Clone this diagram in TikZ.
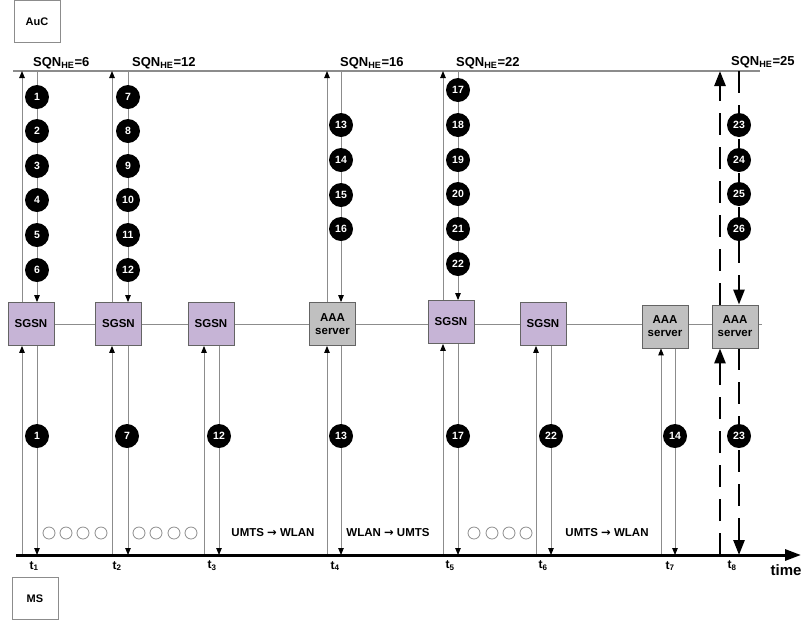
\documentclass[tikz,border=0pt]{standalone}
\usepackage{fontspec}
\setmainfont{Liberation Sans}
\newfontfamily\dvsans{DejaVu Sans}
\usetikzlibrary{arrows.meta,backgrounds}
\definecolor{lav}{RGB}{198,180,214}
\definecolor{aaag}{RGB}{192,192,192}
\definecolor{ln}{RGB}{140,140,140}
\definecolor{bd}{RGB}{100,100,100}
\newcommand{\harr}{{\dvsans\bfseries →}}
\begin{document}
\begin{tikzpicture}[x=1pt,y=-1pt,
  box/.style={draw=bd, line width=0.8pt, minimum width=46pt, minimum height=43pt, inner sep=0pt, align=center, font=\bfseries\fontsize{11.5}{13}\selectfont},
  sgsn/.style={box, fill=lav},
  aaa/.style={box, fill=aaag},
  plainbox/.style={draw=ln, line width=0.8pt, minimum width=46pt, minimum height=42pt, inner sep=0pt, font=\bfseries\fontsize{11}{13}\selectfont},
  num/.style={circle, fill=black, text=white, minimum size=24pt, inner sep=0pt, font=\bfseries\fontsize{10.5}{11}\selectfont},
  hollow/.style={circle, draw=ln, line width=0.8pt, minimum size=12pt, inner sep=0pt},
  msg/.style={draw=ln, line width=0.9pt, -{Triangle[length=7pt,width=5.5pt,color=black]}},
  bigmsg/.style={draw=black, line width=2.6pt, dash pattern=on 22pt off 12pt, -{Triangle[length=15pt,width=11pt]}},
  lbl/.style={font=\bfseries\fontsize{11.5}{13}\selectfont, inner sep=0pt},
  sqn/.style={font=\bfseries\fontsize{13}{15}\selectfont, inner sep=0pt, anchor=base west},
  tl/.style={font=\bfseries\fontsize{12}{14}\selectfont, inner sep=0pt}
]
\useasboundingbox (0,0) rectangle (803,622);

% AuC and MS
\node[plainbox] (auc) at (37,21.5) {AuC};
\node[plainbox] (ms) at (35,598.5) {MS};

% boxes
\node[sgsn] (b1) at (31,324) {SGSN};
\node[sgsn] (b2) at (118.5,324) {SGSN};
\node[sgsn] (b3) at (211,324) {SGSN};
\node[aaa]  (b4) at (332.5,324) {AAA\\server};
\node[sgsn] (b5) at (451,322) {SGSN};
\node[sgsn] (b6) at (543,324) {SGSN};
\node[aaa]  (b7) at (665,326.5) {AAA\\server};
\node[aaa]  (b8) at (735,326.5) {AAA\\server};

% SQN labels
\node[sqn] (s1) at (33,66) {SQN\textsubscript{HE}=6};
\node[sqn] (s2) at (132,66) {SQN\textsubscript{HE}=12};
\node[sqn] (s3) at (340,66) {SQN\textsubscript{HE}=16};
\node[sqn] (s4) at (456,66) {SQN\textsubscript{HE}=22};
\node[sqn] (s5) at (731,65) {SQN\textsubscript{HE}=25};

% top line and time axis
\coordinate (tl0) at (13,71);
\coordinate (tl1) at (760,71);
\coordinate (ax0) at (16,555);
\coordinate (ax1) at (801,555);

% column coordinates (up / down)
\foreach \i/\u/\d in {1/22/37, 2/112/128, 3/204/219, 4/327/341, 5/443/458, 6/536/551, 7/661/675, 8/720/739}{
  \coordinate (Tu\i) at (\u,71);
  \coordinate (Td\i) at (\d,71);
  \coordinate (Au\i) at (\u,555);
  \coordinate (Ad\i) at (\d,555);
}

% upper circles
\foreach \n/\y in {1/97,2/131,3/166,4/200,5/235,6/270}{\node[num] (u\n) at (37,\y) {\n};}
\foreach \n/\y in {7/97,8/131,9/166,10/200,11/235,12/270}{\node[num] (u\n) at (128,\y) {\n};}
\foreach \n/\y in {13/125,14/160,15/195,16/229}{\node[num] (u\n) at (341,\y) {\n};}
\foreach \n/\y in {17/90,18/125,19/160,20/194,21/229,22/264}{\node[num] (u\n) at (458,\y) {\n};}
\foreach \n/\y in {23/125,24/160,25/194,26/229}{\node[num] (u\n) at (739,\y) {\n};}

% lower circles
\foreach \k/\x/\n in {1/37/1, 2/127/7, 3/219/12, 4/341/13, 5/458/17, 6/551/22, 7/675/14, 8/739/23}{
  \node[num] (l\k) at (\x,436) {\n};
}

% hollow circles
\foreach \k/\x in {1/49,2/66,3/83,4/101,5/139,6/156,7/174,8/191,9/474,10/492,11/509,12/526}{
  \node[hollow] (h\k) at (\x,533) {};
}

% handover labels
\node[lbl] (m1) at (273,533) {UMTS \harr{} WLAN};
\node[lbl] (m2) at (388,533) {WLAN \harr{} UMTS};
\node[lbl] (m3) at (607,533) {UMTS \harr{} WLAN};

% time labels
\foreach \i/\x in {1/34,2/117,3/212,4/335,5/450,6/543,7/670,8/732}{
  \node[tl] (t\i) at (\x,566) {t\textsubscript{\i}};
}
\node[font=\bfseries\fontsize{15}{17}\selectfont, inner sep=0pt] (time) at (786,570) {time};

\begin{scope}[on background layer]
  \draw[ln, line width=1.2pt] (tl0) -- (tl1);
  \draw[ln, line width=1pt] (b1.east) -- ([xshift=4pt]b8.east |- b1.east);
  % upper messages
  \foreach \i in {1,2,4,5}{
    \draw[msg] (b\i.north -| Tu\i) -- (Tu\i);
    \draw[msg] (Td\i) -- (b\i.north -| Td\i);
  }
  % lower messages
  \foreach \i in {1,...,7}{
    \draw[msg] (Au\i) -- (b\i.south -| Au\i);
    \draw[msg] (b\i.south -| Ad\i) -- (Ad\i);
  }
  % column 8 dashed
  \draw[bigmsg] (b8.north -| Tu8) -- (Tu8);
  \draw[bigmsg] (Td8) -- (b8.north -| Td8);
  \draw[bigmsg] (Au8) -- (b8.south -| Au8);
  \draw[bigmsg] (b8.south -| Ad8) -- (Ad8);
\end{scope}
\draw[black, line width=3pt, -{Triangle[length=16pt,width=11pt]}] (ax0) -- (ax1);
\end{tikzpicture}
\end{document}
